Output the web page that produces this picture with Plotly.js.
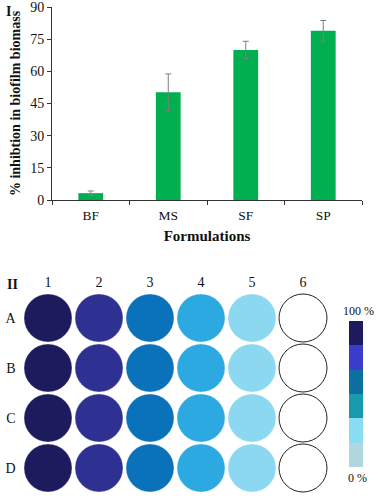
<!DOCTYPE html>
<html>
<head>
<meta charset="utf-8">
<script src="https://cdn.plot.ly/plotly-3.0.1.min.js"></script>
<style>html,body{margin:0;padding:0;background:#fff;}#chart{width:378px;height:496px;}</style>
</head>
<body>
<div id="chart"></div>
<script>
// Panel I data
const formulations = ['BF', 'MS', 'SF', 'SP'];
const inhibition = [3.2, 50.3, 70.0, 78.9];
const inhibitionErr = [1.0, 8.5, 4.0, 4.8];
const yTicks = [0, 15, 30, 45, 60, 75, 90];

// Panel II data (well plate)
const plateRows = ['A', 'B', 'C', 'D'];
const plateCols = ['1', '2', '3', '4', '5', '6'];
const colColors = ['#1E1A5E', '#2E3192', '#0A72BA', '#2BA9E0', '#8BD8F0', '#FFFFFF'];
const legendLevels = [0, 1, 2, 3, 4, 5];
const legendColors = ['#B0D6DE', '#8ADCF2', '#1A9AAE', '#0B6FA0', '#3B3BCC', '#1E1A60'];

const W = 378, H = 496;
const serif = 'Liberation Serif, Times New Roman, serif';

// build well positions
const wx = [], wy = [], wc = [], wl = [];
plateRows.forEach(r => {
  plateCols.forEach((c, j) => {
    wx.push(c); wy.push(r); wc.push(colColors[j]);
    wl.push(j === plateCols.length - 1 ? '#222' : 'rgba(255,255,255,0.3)');
  });
});

const traces = [
  {
    type: 'bar', x: formulations, y: inhibition,
    marker: {color: '#00B050'},
    error_y: {type: 'data', array: inhibitionErr, visible: true, color: '#7f7f7f', thickness: 1, width: 3},
    xaxis: 'x', yaxis: 'y', hoverinfo: 'none', cliponaxis: false
  },
  {
    type: 'scatter', mode: 'markers', x: wx, y: wy,
    marker: {size: 48, color: wc, line: {color: wl, width: 1}},
    xaxis: 'x2', yaxis: 'y2', hoverinfo: 'none', cliponaxis: false
  },
  {
    type: 'heatmap', z: legendLevels.map(v => [v]), x: [0], y: legendLevels,
    zmin: 0, zmax: 5,
    colorscale: legendColors.map((c, i) => [i / 5, c]),
    showscale: false, xaxis: 'x3', yaxis: 'y3', hoverinfo: 'none'
  }
];

const layout = {
  width: W, height: H,
  margin: {l: 0, r: 0, t: 0, b: 0},
  paper_bgcolor: '#fff', plot_bgcolor: '#fff',
  showlegend: false,
  font: {family: serif, size: 13, color: '#111'},
  bargap: 0.68,
  xaxis: {
    domain: [52 / W, 362 / W], anchor: 'y',
    showline: true, linecolor: '#333', linewidth: 1,
    ticks: 'outside', ticklen: 4, tickcolor: '#333', tickson: 'boundaries',
    tickfont: {family: serif, size: 13.5, color: '#111'}, ticklabelstandoff: 3,
    ticklabeloverflow: 'allow',
    title: {text: '<b>Formulations</b>', font: {family: serif, size: 15, color: '#111'}, standoff: 8},
    showgrid: false, zeroline: false, fixedrange: true
  },
  yaxis: {
    domain: [1 - 200 / H, 1 - 7 / H], anchor: 'x',
    range: [0, 90], tickmode: 'array', tickvals: yTicks, ticktext: yTicks.map(String),
    showline: true, linecolor: '#333', linewidth: 1,
    ticks: 'outside', ticklen: 4, tickcolor: '#333',
    tickfont: {family: serif, size: 14, color: '#111'},
    ticklabeloverflow: 'allow',
    title: {text: '<b>% inhibtion in biofilm biomass</b>', font: {family: serif, size: 14, color: '#111'}, standoff: 6},
    showgrid: false, zeroline: false, fixedrange: true
  },
  xaxis2: {
    domain: [22.5 / W, 328.5 / W], anchor: 'y2', side: 'top',
    type: 'category', categoryorder: 'array', categoryarray: plateCols,
    range: [-0.5, 5.5], showline: false, showgrid: false, zeroline: false, ticks: '',
    tickfont: {family: serif, size: 14, color: '#111'}, ticklabelstandoff: 2,
    ticklabeloverflow: 'allow'
  },
  yaxis2: {
    domain: [1 - 493 / H, 1 - 293 / H], anchor: 'x2',
    type: 'category', categoryorder: 'array', categoryarray: plateRows,
    range: [3.5, -0.5], showline: false, showgrid: false, zeroline: false, ticks: '',
    tickfont: {family: serif, size: 14, color: '#111'}, ticklabelstandoff: 6,
    ticklabeloverflow: 'allow'
  },
  xaxis3: {
    domain: [349 / W, 363 / W], anchor: 'y3', range: [-0.5, 0.5],
    visible: false, fixedrange: true
  },
  yaxis3: {
    domain: [1 - 467 / H, 1 - 321 / H], anchor: 'x3', range: [-0.5, 5.5],
    visible: false, fixedrange: true
  },
  annotations: [
    {text: '<b>I</b>', xref: 'paper', yref: 'paper', x: 4 / W, y: 1 - 12 / H, xanchor: 'left', yanchor: 'middle', showarrow: false, font: {family: serif, size: 14, color: '#111'}},
    {text: '<b>II</b>', xref: 'paper', yref: 'paper', x: 5 / W, y: 1 - 284 / H, xanchor: 'left', yanchor: 'middle', showarrow: false, font: {family: serif, size: 14, color: '#111'}},
    {text: '100 %', xref: 'paper', yref: 'paper', x: 358 / W, y: 1 - 311 / H, xanchor: 'center', yanchor: 'middle', showarrow: false, font: {family: serif, size: 12, color: '#111'}},
    {text: '0 %', xref: 'paper', yref: 'paper', x: 357 / W, y: 1 - 478 / H, xanchor: 'center', yanchor: 'middle', showarrow: false, font: {family: serif, size: 12, color: '#111'}}
  ]
};

Plotly.newPlot('chart', traces, layout, {staticPlot: true, displayModeBar: false});
</script>
</body>
</html>
